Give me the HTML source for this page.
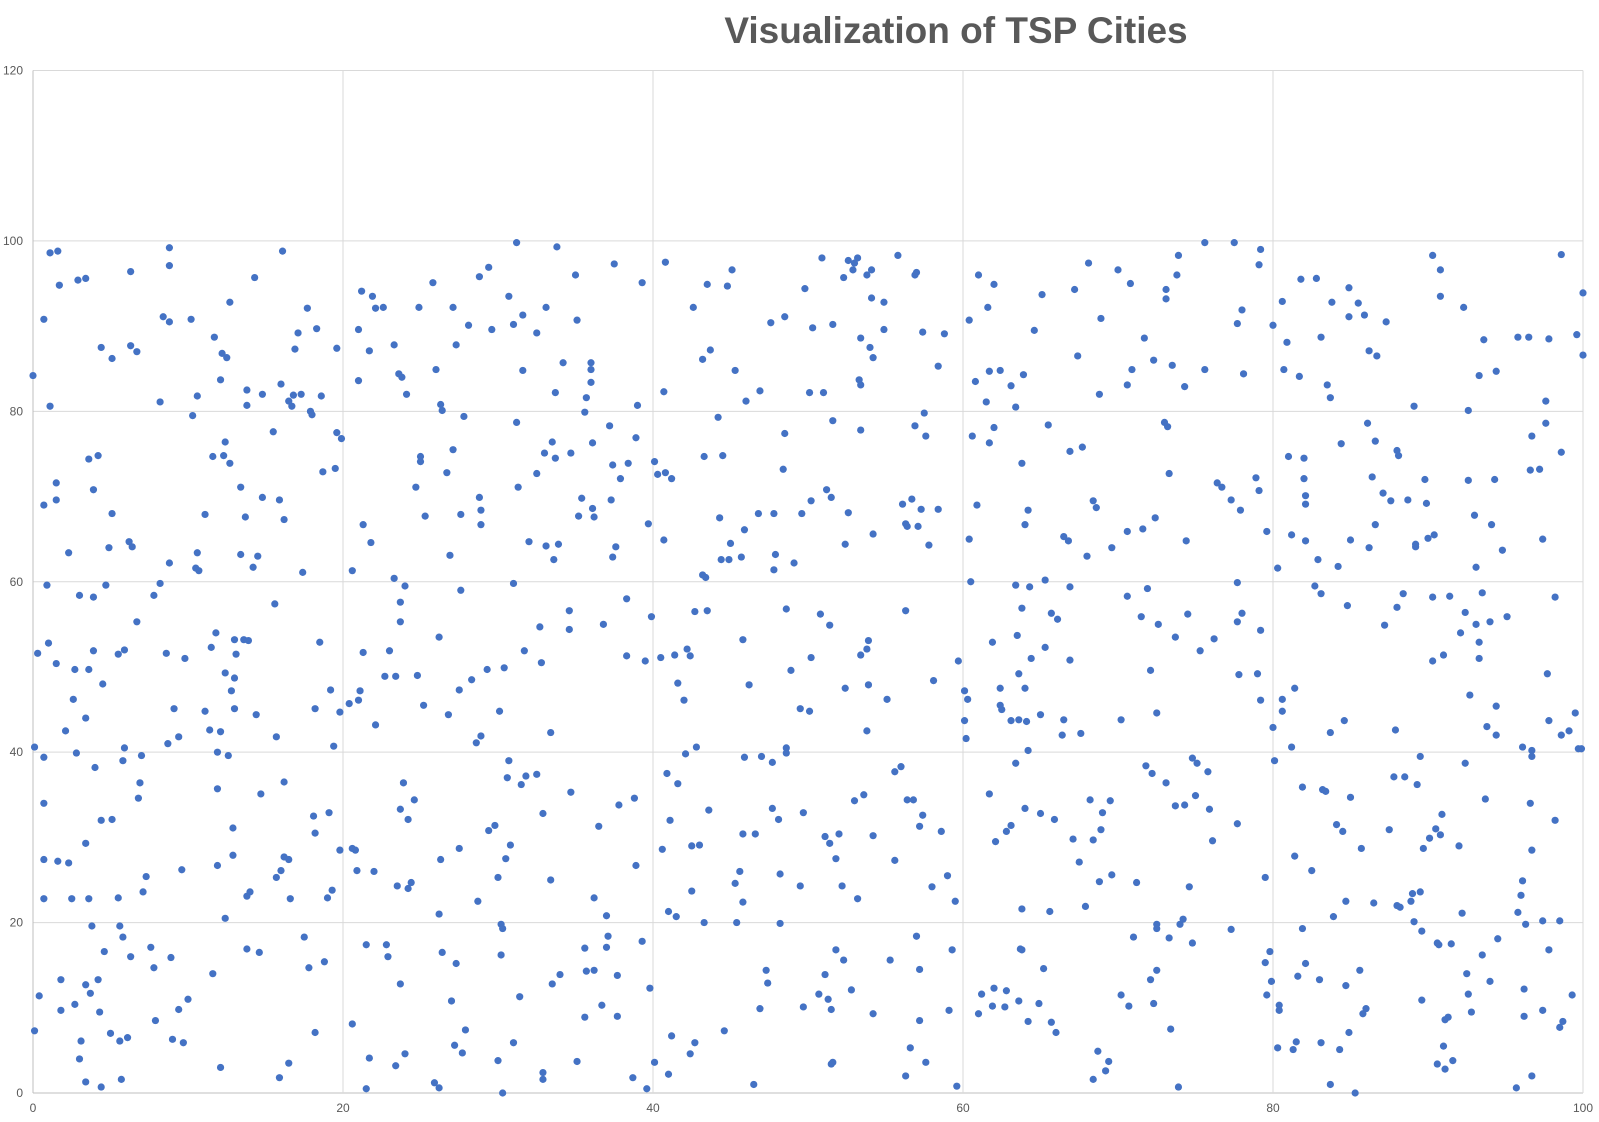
<!DOCTYPE html>
<html><head><meta charset="utf-8"><style>
body{margin:0;background:#fff;}
svg{display:block;font-family:"Liberation Sans",sans-serif;}
</style></head><body>
<svg id="chart" width="1599" height="1122">
<text x="956" y="43" text-anchor="middle" font-size="37" font-weight="bold" fill="#595959">Visualization of TSP Cities</text>
<g id="grid"></g>
<g id="ticks"></g>
<g id="pts"></g>
</svg>
<script>
const xTicks=[0,20,40,60,80,100];
const yTicks=[0,20,40,60,80,100,120];
const cities=[[0,84.2],[0.1,40.6],[0.1,7.3],[0.3,51.6],[0.4,11.4],[0.7,90.8],[0.7,34],[0.7,27.4],[0.7,22.8],[0.7,69],[0.7,39.4],[0.9,59.6],[1,52.8],[1.1,98.6],[1.1,80.6],[1.6,98.8],[1.5,71.6],[1.5,69.6],[1.5,50.4],[1.6,27.2],[1.7,94.8],[1.8,13.3],[1.8,9.7],[2.1,42.5],[2.3,27],[2.3,63.4],[2.5,22.8],[2.6,46.2],[2.7,49.7],[2.8,39.9],[2.7,10.4],[2.9,95.4],[3,58.4],[3,4],[3.1,6.1],[3.4,95.6],[3.4,29.3],[3.4,44],[3.4,12.7],[3.4,1.3],[3.6,49.7],[3.6,74.4],[3.6,22.8],[3.7,11.7],[3.9,70.8],[3.8,19.6],[3.9,51.9],[3.9,58.2],[4,38.2],[4.2,74.8],[4.2,13.3],[4.3,9.5],[4.4,0.7],[4.4,32],[4.4,87.5],[4.5,48],[4.6,16.6],[4.7,59.6],
[4.9,64],[5,7],[5.1,86.2],[5.1,32.1],[5.1,68],[5.5,51.5],[5.6,19.6],[5.5,22.9],[5.6,6.1],[5.7,1.6],[5.8,39],[5.8,18.3],[5.9,52],[5.9,40.5],[6.1,6.5],[6.2,64.7],[6.3,96.4],[6.3,87.7],[6.3,16],[6.4,64.1],[6.7,87],[6.7,55.3],[6.8,34.6],[6.9,36.4],[7,39.6],[7.1,23.6],[7.3,25.4],[7.6,17.1],[7.8,14.7],[7.8,58.4],[7.9,8.5],[8.2,59.8],[8.2,81.1],[8.4,91.1],[8.6,51.6],[8.7,41],[8.8,99.2],[8.8,97.1],[8.8,90.5],[8.8,62.2],[8.9,15.9],[9,6.3],[9.1,45.1],[9.4,41.8],[9.4,9.8],[9.6,26.2],[9.7,5.9],[9.8,51],[10,11],[10.2,90.8],[10.3,79.5],[10.5,61.6],[10.6,81.8],[10.6,63.4],[10.7,61.3],[11.1,44.8],[11.1,67.9],[11.4,42.6],[11.5,52.3],[11.6,14],[11.6,74.7],[11.7,88.7],[11.8,54],[11.9,35.7],[11.9,40],[11.9,26.7],[12.1,83.7],[12.1,42.4],[12.1,3],[12.2,86.8],[12.3,74.8],[12.4,76.4],[12.4,49.3],[12.4,20.5],[12.5,86.3],[12.6,39.6],[12.7,73.9],[12.7,92.8],[12.8,47.2],[12.9,31.1],[12.9,27.9],[13,53.2],[13,45.1],[13,48.7],[13.1,51.5],[13.4,71.1],[13.4,63.2],[13.6,53.2],[13.7,67.6],[13.8,23.1],[13.8,16.9],[13.8,82.5],[13.8,80.7],[13.9,53.1],[14,23.6],[14.2,61.7],[14.3,95.7],[14.4,44.4],[14.5,63],[14.6,16.5],[14.7,35.1],[14.8,69.9],[14.8,82],
[15.5,77.6],[15.6,57.4],[15.7,41.8],[15.7,25.3],[15.9,1.8],[15.9,69.6],[16,83.2],[16,26.1],[16.1,98.8],[16.2,67.3],[16.2,36.5],[16.2,27.7],[16.5,27.4],[16.5,3.5],[16.5,81.2],[16.6,22.8],[16.7,80.6],[16.8,81.9],[16.9,87.3],[17.1,89.2],[17.3,82],[17.4,61.1],[17.5,18.3],[17.7,92.1],[17.8,14.7],[17.9,80],[18,79.6],[18.1,32.5],[18.2,7.1],[18.2,45.1],[18.2,30.5],[18.3,89.7],[18.5,52.9],[18.6,81.8],[18.7,72.9],[18.8,15.4],[19,22.9],[19.1,32.9],[19.2,47.3],[19.3,23.8],[19.4,40.7],[19.5,73.3],[19.6,87.4],[19.6,77.5],[19.8,44.7],[19.8,28.5],[19.9,76.8],[20.4,45.7],[20.6,8.1],[20.6,61.3],[20.6,28.7],[20.8,28.5],[20.9,26.1],[21,89.6],[21,46.1],[21,83.6],[21.1,47.2],[21.2,94.1],[21.3,66.7],[21.3,51.7],[21.5,0.5],[21.5,17.4],[21.7,4.1],[21.7,87.1],[21.8,64.6],[21.9,93.5],[22,26],[22.1,92.1],[22.1,43.2],[22.6,92.2],[22.7,48.9],[22.8,17.4],[22.9,16],[23,51.9],[23.3,87.8],[23.3,60.4],[23.4,3.2],[23.4,48.9],[23.5,24.3],[23.6,84.4],[23.7,57.6],[23.7,55.3],[23.7,12.8],[23.7,33.3],[23.8,84],[23.9,36.4],[24,59.5],[24,4.6],[24.1,82],[24.2,32.1],[24.2,24],[24.4,24.7],[24.6,34.4],[24.7,71.1],[24.8,49],[24.9,92.2],[25,74.7],[25,74.1],[25.2,45.5],[25.3,67.7],[25.8,95.1],[25.9,1.2],[26,84.9],[26.2,21],[26.2,0.6],[26.2,53.5],[26.3,80.8],[26.3,27.4],[26.4,16.5],[26.4,80.1],[26.7,72.8],[26.8,44.4],[26.9,63.1],[27,10.8],[27.1,75.5],[27.1,92.2],[27.2,5.6],[27.3,15.2],[27.3,87.8],[27.5,28.7],[27.5,47.3],[27.6,67.9],[27.6,59],[27.7,4.7],[27.8,79.4],[27.9,7.4],[28.1,90.1],[28.3,48.5],[28.6,41.1],[28.7,22.5],[28.8,95.8],[28.8,69.9],[28.9,68.4],[28.9,41.9],[28.9,66.7],[29.3,49.7],[29.4,96.9],[29.4,30.8],[29.6,89.6],[29.8,31.4],[30,3.8],[30,25.3],[30.1,44.8],[30.2,19.8],[30.2,16.2],[30.3,0],[30.3,19.3],[30.4,49.9],[30.5,27.5],[30.6,37],[30.7,39],[30.7,93.5],[30.8,29.1],[31,59.8],[31,5.9],[31,90.2],[31.2,78.7],[31.2,99.8],[31.3,71.1],[31.4,11.3],[31.5,36.2],[31.6,91.3],[31.6,84.8],[31.7,51.9],[31.8,37.2],[32,64.7],[32.5,89.2],[32.5,72.7],[32.5,37.4],[32.7,54.7],[32.8,50.5],[32.9,2.4],[32.9,1.6],[32.9,32.8],[33,75.1],[33.1,92.2],[33.1,64.2],[33.4,42.3],[33.4,25],[33.5,76.4],[33.5,12.8],[33.6,62.6],[33.7,74.5],[33.7,82.2],[33.8,99.3],[33.9,64.4],[34,13.9],[34.2,85.7],[34.6,56.6],[34.6,54.4],[34.7,35.3],[34.7,75.1],[35,96],[35.1,90.7],[35.1,3.7],[35.2,67.7],[35.4,69.8],[35.6,79.9],[35.6,8.9],[35.6,17],[35.7,81.6],[35.7,14.3],[36,85.7],[36,84.9],[36,83.4],[36.1,76.3],[36.2,22.9],[36.1,68.6],[36.2,14.4],[36.2,67.6],[36.5,31.3],[36.7,10.3],[36.8,55],[37,20.8],[37,17.1],[37.1,18.4],[37.2,78.3],[37.3,69.6],[37.4,73.7],[37.4,62.9],[37.5,97.3],[37.6,64.1],[37.7,13.8],[37.7,9],[37.8,33.8],[37.9,72.1],[38.3,58],[38.3,51.3],[38.4,73.9],[38.7,1.8],[38.8,34.6],[38.9,26.7],[38.9,76.9],[39,80.7],[39.3,17.8],[39.3,95.1],[39.5,50.7],[39.6,0.5],[39.7,66.8],[39.8,12.3],[39.9,55.9],[40.1,3.6],[40.1,74.1],[40.3,72.6],[40.5,51.1],[40.6,28.6],[40.7,82.3],[40.7,64.9],[40.8,97.5],[40.8,72.8],[40.9,37.5],[41,2.2],[41,21.3],[41.1,32],[41.2,72.1],[41.2,6.7],[41.4,51.4],[41.5,20.7],[41.6,48.1],[41.6,36.3],[42,46.1],[42.1,39.8],[42.2,52.1],[42.4,4.6],[42.4,51.3],[42.5,23.7],[42.5,29],[42.6,92.2],[42.7,5.9],[42.7,56.5],[42.8,40.6],[43,29.1],[43.2,86.1],[43.2,60.8],[43.3,20],[43.3,74.7],[43.4,60.5],[43.5,56.6],[43.5,94.9],[43.6,33.2],[43.7,87.2],[44.2,79.3],[44.3,67.5],[44.4,62.6],[44.5,74.8],[44.6,7.3],[44.8,94.7],[44.9,62.6],[45,64.5],[45.1,96.6],[45.3,24.6],[45.3,84.8],[45.4,20],[45.6,26],[45.7,62.9],[45.8,53.2],[45.8,30.4],[45.8,22.4],[45.9,66.1],[45.9,39.4],[46,81.2],[46.2,47.9],[46.5,1],[46.6,30.4],[46.8,68],[46.9,9.9],[46.9,82.4],[47,39.5],[47.3,14.4],[47.4,12.9],[47.6,90.4],[47.7,38.8],[47.7,33.4],[47.8,68],[47.8,61.4],[47.9,63.2],[48.1,32.1],[48.2,25.7],[48.2,19.9],[48.4,73.2],[48.5,77.4],[48.5,91.1],[48.6,39.9],[48.6,56.8],[48.6,40.5],[48.9,49.6],[49.1,62.2],[49.5,45.1],[49.5,24.3],[49.6,68],[49.7,32.9],[49.7,10.1],[49.8,94.4],[50.1,44.8],[50.1,82.2],[50.2,69.5],[50.2,51.1],[50.3,89.8],[50.7,11.6],[50.8,56.2],[50.9,98],[51,82.2],[51.1,30.1],[51.1,13.9],[51.2,70.8],[51.3,11],[51.4,54.9],[51.4,29.3],[51.5,69.9],[51.5,9.8],[51.5,3.4],[51.6,3.6],[51.6,78.9],[51.6,90.2],[51.8,16.8],[51.8,27.5],[52,30.4],[52.2,24.3],[52.3,15.6],[52.3,95.7],[52.4,47.5],[52.4,64.4],[52.6,68.1],[52.6,97.7],[52.8,12.1],[52.9,96.6],[53,34.3],[53,97.4],[53.2,98],[53.2,22.8],[53.3,83.7],[53.4,77.8],[53.4,83.1],[53.4,88.6],[53.4,51.4],[53.6,35],[53.8,42.5],[53.8,96],[53.8,52.1],[53.9,53.1],[53.9,47.9],[54,87.5],[54.1,96.6],[54.1,93.3],[54.2,65.6],[54.2,9.3],[54.2,30.2],[54.2,86.3],[54.9,89.6],[54.9,92.8],[55.1,46.2],[55.3,15.6],[55.6,27.3],[55.6,37.7],[55.8,98.3],[56,38.3],[56.1,69.1],[56.3,56.6],[56.3,66.8],[56.3,2],[56.4,66.5],[56.4,34.4],[56.6,5.3],[56.7,69.7],[56.8,34.4],[56.9,78.3],[57,18.4],[56.9,96],[57,96.3],[57.1,66.5],[57.2,14.5],[57.2,8.5],[57.2,31.3],[57.3,68.5],[57.4,32.6],[57.4,89.3],[57.5,79.8],[57.6,77.1],[57.6,3.6],[57.8,64.3],[58,24.2],[58.1,48.4],[58.4,85.3],[58.4,68.5],[58.6,30.7],[58.8,89.1],[59,25.5],[59.1,9.7],[59.3,16.8],[59.5,22.5],[59.6,0.8],[59.7,50.7],[60.1,47.2],[60.1,43.7],[60.2,41.6],[60.3,46.2],[60.4,90.7],[60.4,65],[60.5,60],[60.6,77.1],[60.8,83.5],[60.9,69],[61,96],[61,9.3],[61.2,11.6],[61.5,81.1],[61.6,92.2],[61.7,76.3],[61.7,84.7],[61.7,35.1],[61.9,52.9],[61.9,10.2],[62,78.1],[62,12.3],[62,94.9],[62.1,29.5],[62.4,84.8],[62.4,47.5],[62.4,45.5],[62.5,45],[62.7,10.1],[62.8,30.7],[62.8,12],[63.1,83],[63.1,43.7],[63.1,31.4],[63.4,38.7],[63.4,80.5],[63.4,59.6],[63.5,53.7],[63.6,49.2],[63.6,10.8],[63.6,43.8],[63.7,16.9],[63.8,73.9],[63.8,56.9],[63.8,21.6],[63.8,16.8],[63.9,84.3],[64,33.4],[64,66.7],[64,47.5],[64.1,43.6],[64.2,40.2],[64.2,68.4],[64.2,8.4],[64.3,59.4],[64.4,51],[64.6,89.5],[64.9,10.5],[65,44.4],[65,32.8],[65.1,93.7],[65.2,14.6],[65.3,60.2],[65.3,52.3],[65.5,78.4],[65.6,21.3],[65.7,8.3],[65.7,56.3],[65.9,32.1],[66,7.1],[66.1,55.6],[66.4,42],[66.5,43.8],[66.5,65.3],[66.8,64.8],[66.9,59.4],[66.9,50.8],[66.9,75.3],[67.1,29.8],[67.2,94.3],[67.4,86.5],[67.5,27.1],[67.6,42.2],[67.7,75.8],[67.9,21.9],[68,63],[68.1,97.4],[68.2,34.4],[68.4,1.6],[68.4,29.7],[68.4,69.5],[68.6,68.7],[68.7,4.9],[68.8,82],[68.8,24.8],[68.9,30.9],[68.9,90.9],[69,32.9],[69.2,2.6],[69.4,3.7],[69.5,34.3],[69.6,25.6],[69.6,64],[70,96.6],[70.2,11.5],[70.2,43.8],[70.6,83.1],[70.6,65.9],[70.6,58.3],[70.7,10.2],[70.8,95],[70.9,84.9],[71,18.3],[71.2,24.7],[71.5,55.9],[71.6,66.2],[71.7,88.6],[71.8,38.4],[71.9,59.2],[72.1,13.3],[72.1,49.6],[72.2,37.5],[72.3,10.5],[72.3,86],[72.4,67.5],[72.5,44.6],[72.5,19.3],[72.5,14.4],[72.5,19.8],[72.6,55],[73,78.7],[73.1,94.3],[73.1,93.2],[73.1,36.4],[73.2,78.2],[73.3,72.7],[73.3,18.2],[73.4,7.5],[73.5,85.4],[73.7,53.5],[73.7,33.7],[73.8,96],[73.9,98.3],[73.9,0.7],[74,19.8],[74.2,20.4],[74.3,82.9],[74.3,33.8],[74.4,64.8],[74.5,56.2],[74.6,24.2],[74.8,39.3],[74.8,17.6],[75,34.9],[75.1,38.7],[75.3,51.9],[75.6,84.9],[75.6,99.8],[75.8,37.7],[75.9,33.3],[76.1,29.6],[76.2,53.3],[76.4,71.6],[76.7,71.1],[77.3,19.2],[77.3,69.6],[77.5,99.8],[77.7,59.9],[77.7,31.6],[77.7,90.3],[77.7,55.3],[77.8,49.1],[77.9,68.4],[78,91.9],[78,56.3],[78.1,84.4],[78.9,72.2],[79,49.2],[79.1,97.2],[79.1,70.7],[79.2,54.3],[79.2,46.1],[79.2,99],[79.5,15.3],[79.5,25.3],[79.6,11.5],[79.6,65.9],[79.8,16.6],[79.9,13.1],[80,90.1],[80,42.9],[80.1,39],[80.3,61.6],[80.3,5.3],[80.4,10.3],[80.4,9.7],[80.6,44.8],[80.6,92.9],[80.6,46.2],[80.7,84.9],[80.9,88.1],[81,74.7],[81.2,65.5],[81.2,40.6],[81.3,5.1],[81.4,27.8],[81.4,47.5],[81.5,6],[81.6,13.7],[81.7,84.1],[81.8,95.5],[81.9,19.3],[81.9,35.9],[82,72.1],[82,74.5],[82.1,64.8],[82.1,15.2],[82.1,69.1],[82.1,70.1],[82.5,26.1],[82.7,59.5],[82.8,95.6],[82.9,62.6],[83,13.3],[83.1,88.7],[83.1,58.6],[83.1,5.9],[83.2,35.6],[83.4,35.4],[83.5,83.1],[83.7,81.6],[83.7,42.3],[83.7,1],[83.8,92.8],[83.9,20.7],[84.1,31.5],[84.2,61.8],[84.3,5.1],[84.4,76.2],[84.5,30.7],[84.6,43.7],[84.7,22.5],[84.7,12.6],[84.8,57.2],[84.9,94.5],[84.9,91.1],[84.9,7.1],[85,34.7],[85,64.9],[85.3,0],[85.5,92.7],[85.6,14.4],[85.7,28.7],[85.8,9.3],[85.9,91.3],[86,9.9],[86.1,78.6],[86.2,64],[86.2,87.1],[86.4,72.3],[86.5,22.3],[86.6,66.7],[86.6,76.5],[86.7,86.5],[87.1,70.4],[87.2,54.9],[87.3,90.5],[87.5,30.9],[87.6,69.5],[87.8,37.1],[87.9,42.6],[88,57],[88,22],[88,75.4],[88.1,74.8],[88.2,21.8],[88.4,58.6],[88.5,37.1],[88.7,69.6],[88.9,22.5],[89,23.4],[89.1,80.6],[89.1,20.1],[89.2,64.4],[89.2,64.1],[89.3,36.2],[89.5,39.5],[89.5,23.6],[89.6,10.9],[89.6,19],[89.7,28.7],[89.8,72],[89.9,69.2],[90,65.1],[90.1,29.9],[90.3,58.2],[90.3,50.7],[90.3,98.3],[90.4,65.5],[90.5,31],[90.6,17.6],[90.6,3.4],[90.7,17.4],[90.8,93.5],[90.8,30.3],[90.8,96.6],[90.9,32.7],[91,51.4],[91,5.5],[91.1,2.8],[91.1,8.6],[91.3,8.9],[91.4,58.3],[91.5,17.5],[91.6,3.8],[92,29],[92.1,54],[92.2,21.1],[92.3,92.2],[92.4,38.7],[92.4,56.4],[92.5,14],[92.6,11.6],[92.6,80.1],[92.6,71.9],[92.7,46.7],[92.8,9.5],[93,67.8],[93.1,55],[93.1,61.7],[93.3,84.2],[93.3,52.9],[93.3,51],[93.5,16.2],[93.5,58.7],[93.6,88.4],[93.7,34.5],[93.8,43],[94,55.3],[94,13.1],[94.1,66.7],[94.3,72],[94.4,45.4],[94.4,84.7],[94.4,42],[94.5,18.1],[94.8,63.7],[95.1,55.9],[95.7,0.6],[95.8,88.7],[95.8,21.2],[96,23.2],[96.1,40.6],[96.1,24.9],[96.2,9],[96.2,12.2],[96.3,19.8],[96.5,88.7],[96.6,34],[96.6,73.1],[96.7,2],[96.7,40.2],[96.7,77.1],[96.7,28.5],[96.7,39.5],[97.2,73.2],[97.4,65],[97.4,20.2],[97.4,9.7],[97.6,78.6],[97.6,81.2],[97.7,49.2],[97.8,43.7],[97.8,88.5],[97.8,16.8],[98.2,58.2],[98.2,32],[98.5,20.2],[98.5,7.7],[98.6,98.4],[98.6,75.2],[98.6,42],[98.7,8.4],[99.1,42.5],[99.3,11.5],[99.5,44.6],[99.6,89],[99.7,40.4],[99.9,40.4],[100,86.6],[100,93.9]];

const NS='http://www.w3.org/2000/svg';
const L=33,R=1583,T=70.5,B=1093;
function sx(v){return L+(v-0)/(100-0)*(R-L);}
function sy(v){return B-(v-0)/(120-0)*(B-T);}
function mk(tag,attrs,parent){const e=document.createElementNS(NS,tag);for(const k in attrs)e.setAttribute(k,attrs[k]);parent.appendChild(e);return e;}
const grid=document.getElementById('grid'),ticks=document.getElementById('ticks'),pts=document.getElementById('pts');
yTicks.forEach(v=>{
  const ln=mk('line',{x1:L,x2:R,y1:sy(v),y2:sy(v),stroke:v===0?'#bfbfbf':'#d9d9d9','stroke-width':1},grid);
  
  
  const t=mk('text',{x:L-10,y:sy(v)+4,'text-anchor':'end','font-size':12,fill:'#595959'},ticks);
  t.textContent=v;
  
  
});
xTicks.forEach(v=>{
  const ln=mk('line',{x1:sx(v),x2:sx(v),y1:T,y2:B,stroke:v===0?'#bfbfbf':'#d9d9d9','stroke-width':1},grid);
  
  
  const t=mk('text',{x:sx(v),y:B+19,'text-anchor':'middle','font-size':12,fill:'#595959'},ticks);
  t.textContent=v;
  
  
});
cities.forEach(c=>{
  const p=mk('circle',{cx:sx(c[0]),cy:sy(c[1]),r:3.6,fill:'#4472c4'},pts);
  
  
});
</script>
</body></html>
